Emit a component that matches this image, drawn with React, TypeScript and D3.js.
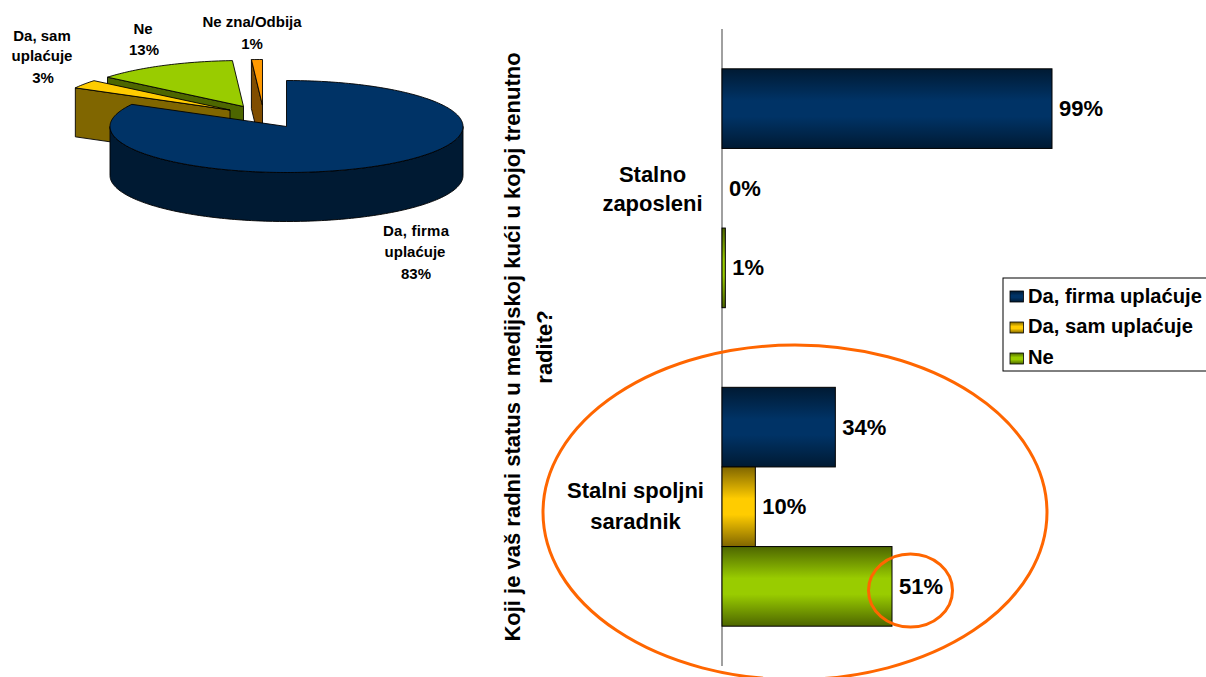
import React from "react";
import * as d3 from "d3";

const pieLabels = ["Da, firma uplaćuje", "Da, sam uplaćuje", "Ne", "Ne zna/Odbija"];
const pieValues = [83, 3, 13, 1];
const pieTop = ["#003366", "#FFCC00", "#99CC00", "#FF9900"];
const pieSide = ["#001A33", "#806600", "#4D6600", "#804D00"];
const pieOffsets: [number, number][] = [[0, 0], [-56.5, -16.5], [-43, -20], [-24, -21]];
const pieDrawOrder = [2, 1, 3, 0];

const barCategories = ["Stalno zaposleni", "Stalni spoljni saradnik"];
const barSeries = ["Da, firma uplaćuje", "Da, sam uplaćuje", "Ne"];
const firmValues = [99, 34];
const selfValues = [0, 10];
const noValues = [1, 51];
const barMid = ["#003366", "#FFCC00", "#99CC00"];
const barDark = ["#001A33", "#806600", "#4D6600"];

const pieCx = 286.5, pieCy = 126.5, pieRx = 176.5, pieRy = 46, pieDepth = 49;
const FONT = "'Liberation Sans', Arial, sans-serif";

function pt(a: number, off: [number, number], dy = 0): [number, number] {
  return [pieCx + off[0] + pieRx * Math.sin(a), pieCy + off[1] - pieRy * Math.cos(a) + dy];
}
function rim(a0: number, a1: number, off: [number, number], dy = 0) {
  const n = Math.max(2, Math.ceil(Math.abs(a1 - a0) / 0.02));
  return d3.range(n + 1).map((i) => pt(a0 + ((a1 - a0) * i) / n, off, dy));
}
const line = d3.line();

export default function App() {
  const arcs = d3.pie<number>().sort(null).startAngle(0).endAngle(2 * Math.PI)(pieValues);

  const x = d3.scaleLinear().domain([0, 99]).range([722, 1052]);
  const y0 = d3.scaleBand<number>().domain([0, 1]).range([29, 666]);
  const y1 = d3.scaleBand<number>().domain([0, 1, 2]).range([0, y0.bandwidth()]).paddingOuter(0.5).paddingInner(0);
  const groups = [firmValues, selfValues, noValues];

  const bold = { fontFamily: FONT, fontWeight: 700, fill: "#000" } as const;

  return (
    <svg width={1206} height={677} style={{ position: "absolute", left: 0, top: 0, display: "block" }}>
      <defs>
        {barMid.map((c, i) => (
          <linearGradient key={i} id={`bar${i}`} x1="0" y1="0" x2="0" y2="1">
            <stop offset="0" stopColor={barDark[i]} />
            <stop offset="0.4" stopColor={c} />
            <stop offset="0.6" stopColor={c} />
            <stop offset="1" stopColor={barDark[i]} />
          </linearGradient>
        ))}
      </defs>
      <rect width={1206} height={677} fill="#fff" />

      {/* 3D pie */}
      {pieDrawOrder.map((i) => {
        const a = arcs[i];
        const off = pieOffsets[i];
        const apex: [number, number] = [pieCx + off[0], pieCy + off[1]];
        const apexLow: [number, number] = [apex[0], apex[1] + pieDepth];
        const top = line([apex, ...rim(a.startAngle, a.endAngle, off)])! + "Z";
        let side: string;
        if (i === 0) {
          const from = Math.PI / 2, to = (3 * Math.PI) / 2;
          side = line([...rim(from, to, off), ...rim(to, from, off, pieDepth)])! + "Z";
        } else {
          const p0 = pt(a.startAngle, off);
          const p0l = pt(a.startAngle, off, pieDepth);
          side = line([p0, apex, apexLow, p0l])! + "Z";
        }
        return (
          <g key={i} stroke="#000" strokeWidth={0.9} strokeLinejoin="round">
            <path d={side} fill={pieSide[i]} />
            <path d={top} fill={pieTop[i]} />
          </g>
        );
      })}

      <g {...bold} fontSize={15} textAnchor="middle">
        <text x={416} y={236} textLength={66} lengthAdjust="spacing">Da, firma</text>
        <text x={415} y={257}>uplaćuje</text>
        <text x={416} y={279}>83%</text>
        <text x={42} y={41}>Da, sam</text>
        <text x={42} y={61}>uplaćuje</text>
        <text x={43} y={83}>3%</text>
        <text x={143} y={34}>Ne</text>
        <text x={144} y={55}>13%</text>
        <text x={252} y={27}>Ne zna/Odbija</text>
        <text x={252} y={49}>1%</text>
      </g>

      {/* Bars */}
      <line x1={x(0)} x2={x(0)} y1={29} y2={666} stroke="#808080" strokeWidth={1.5} />
      {barCategories.map((_, c) => (
        <g key={c} transform={`translate(0,${y0(c)})`}>
          {groups.map((vals, s) => {
            const v = vals[c];
            const by = y1(s)!;
            return (
              <g key={s}>
                {v > 0 && (
                  <rect x={x(0)} y={by} width={x(v) - x(0)} height={y1.bandwidth()} fill={`url(#bar${s})`} stroke="#000" strokeWidth={1} />
                )}
                <text x={x(v) + 7} y={by + y1.bandwidth() / 2 + 7.5} {...bold} fontSize={22}>{v}%</text>
              </g>
            );
          })}
        </g>
      ))}

      <g {...bold} fontSize={22} textAnchor="middle">
        <text x={652.5} y={182}>Stalno</text>
        <text x={652.5} y={211}>zaposleni</text>
        <text x={635.5} y={498}>Stalni spoljni</text>
        <text x={635.5} y={529}>saradnik</text>
      </g>

      <g {...bold} fontSize={22} textAnchor="middle">
        <text transform="translate(520,347) rotate(-90)">Koji je vaš radni status u medijskoj kući u kojoj trenutno</text>
        <text transform="translate(552,347) rotate(-90)">radite?</text>
      </g>

      {/* Legend */}
      <rect x={1003} y={278} width={210} height={93} fill="#fff" stroke="#000" strokeWidth={1} />
      {barSeries.map((s, i) => (
        <g key={s}>
          <rect x={1010} y={291 + i * 31} width={13.5} height={11} fill={`url(#bar${i})`} stroke="#000" strokeWidth={0.8} />
          <text x={1028} y={302.5 + i * 30.75} {...bold} fontSize={20.2}>{s}</text>
        </g>
      ))}

      {/* Highlight ellipses */}
      <ellipse cx={795} cy={512.3} rx={252} ry={167.3} fill="none" stroke="#FF6600" strokeWidth={3} />
      <ellipse cx={910.5} cy={590.5} rx={42} ry={36.5} fill="none" stroke="#FF6600" strokeWidth={3} />
    </svg>
  );
}
